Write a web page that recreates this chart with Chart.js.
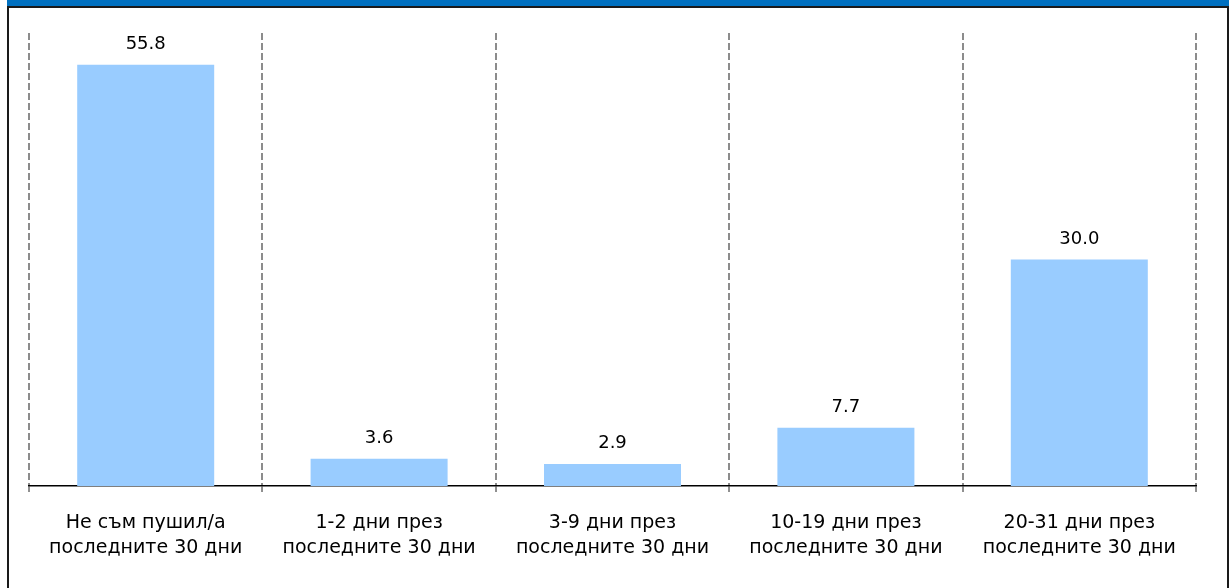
<!DOCTYPE html>
<html>
<head>
<meta charset="utf-8">
<script src="https://cdn.jsdelivr.net/npm/chart.js@4"></script>
<style>
    html, body { margin: 0; padding: 0; background: #fff; }
    #page { position: relative; width: 1232px; height: 588px; overflow: hidden; }
    #topbar { position: absolute; left: 7px; top: 0; width: 1222px; height: 6px; background: #0070C0; }
    #frame { position: absolute; left: 7px; top: 6px; width: 1218px; height: 600px;
             border: 2px solid #1a1a1a; border-bottom: none; }
    #chart { position: absolute; left: 0; top: 0; }
</style>
</head>
<body>
<div id="page">
    <div id="topbar"></div>
    <div id="frame"></div>
    <canvas id="chart" width="1232" height="588"></canvas>
</div>
<script>
const categories = [
    ["Не съм пушил/а", "последните 30 дни"],
    ["1-2 дни през", "последните 30 дни"],
    ["3-9 дни през", "последните 30 дни"],
    ["10-19 дни през", "последните 30 дни"],
    ["20-31 дни през", "последните 30 дни"]
];
const values = [55.8, 3.6, 2.9, 7.7, 30.0];
const yMax = 60;

const labelFont = "'DejaVu Sans', sans-serif";

const valueLabels = {
    id: "valueLabels",
    afterDatasetsDraw(chart) {
        const ctx = chart.ctx;
        const meta = chart.getDatasetMeta(0);
        ctx.save();
        ctx.font = "18px " + labelFont;
        ctx.fillStyle = "#000";
        ctx.textAlign = "center";
        ctx.textBaseline = "alphabetic";
        meta.data.forEach((bar, i) => {
            ctx.fillText(values[i].toFixed(1), bar.x, bar.y - 16);
        });
        ctx.restore();
    }
};

new Chart(document.getElementById("chart"), {
    type: "bar",
    data: {
        labels: categories,
        datasets: [{
            data: values,
            backgroundColor: "#99CCFF",
            borderWidth: 0,
            barPercentage: 0.587,
            categoryPercentage: 1
        }]
    },
    options: {
        responsive: false,
        animation: false,
        layout: { padding: { left: 29, right: 36, top: 33, bottom: 0 } },
        plugins: { legend: { display: false }, tooltip: { enabled: false } },
        scales: {
            x: {
                offset: true,
                afterFit: (scale) => { scale.height = 102; },
                grid: {
                    offset: true,
                    color: "#8c8c8c",
                    lineWidth: 2,
                    tickLength: 6,
                    tickColor: "#000",
                    tickWidth: 1,
                    tickBorderDash: [1, 0]
                },
                border: { color: "#000", width: 1.5, dash: [7, 3] },
                ticks: {
                    color: "#000",
                    padding: 19,
                    maxRotation: 0,
                    autoSkip: false,
                    font: { family: labelFont, size: 19, lineHeight: 1.3 }
                }
            },
            y: {
                display: false,
                min: 0,
                max: yMax
            }
        }
    },
    plugins: [valueLabels]
});
</script>
</body>
</html>
